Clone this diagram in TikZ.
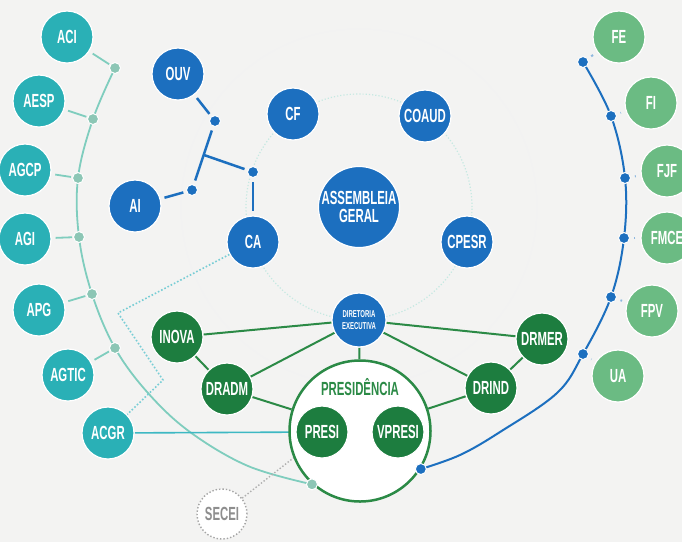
\documentclass[tikz,border=0pt]{standalone}
\usepackage{fontspec}
\setmainfont{Liberation Sans}[FakeStretch=0.6]
\usetikzlibrary{positioning}
\definecolor{paper}{HTML}{F3F3F2}
\definecolor{tealc}{HTML}{2AB0B6}
\definecolor{arcteal}{HTML}{7FCDBE}
\definecolor{dotteal}{HTML}{8CC6B5}
\definecolor{acgrline}{HTML}{3DB8C3}
\definecolor{bluec}{HTML}{1C6FBF}
\definecolor{greenc}{HTML}{1D7D3F}
\definecolor{linegreen}{HTML}{2B8A46}
\definecolor{lgreenc}{HTML}{6BBB83}
\definecolor{secgray}{HTML}{8E8E8E}
\pgfdeclarelayer{back}
\pgfsetlayers{back,main}

\begin{document}
\begin{tikzpicture}[x=1pt, y=-1pt,
  orgnode/.style={circle, minimum size=52pt, inner sep=0pt, draw=white, line width=1.2pt, text=white, font=\bfseries\fontsize{19}{19}\selectfont},
  assoc/.style={orgnode, fill=tealc},
  board/.style={orgnode, fill=bluec},
  direc/.style={orgnode, fill=greenc},
  fund/.style={orgnode, fill=lgreenc},
  tdot/.style={circle, inner sep=0pt, minimum size=11pt, fill=dotteal, draw=white, line width=1pt},
  bdot/.style={tdot, fill=bluec},
  tline/.style={draw=arcteal, line width=1.8pt},
  bline/.style={draw=bluec, line width=2.5pt},
  gline/.style={draw=linegreen, line width=2pt}]
\useasboundingbox (0,0) rectangle (682,542);
\begin{pgfonlayer}{back}
\fill[paper] (0,0) rectangle (682,542);
\end{pgfonlayer}

\node[assoc] (aci) at (67,37) {ACI};
\node[assoc] (aesp) at (39,101) {AESP};
\node[assoc] (agcp) at (25,170) {AGCP};
\node[assoc] (agi) at (25,239) {AGI};
\node[assoc] (apg) at (39,310) {APG};
\node[assoc] (agtic) at (68,375) {AGTIC};
\node[assoc] (acgr) at (108,433) {ACGR};

\node[tdot] (t1) at (115,68) {};
\node[tdot] (t2) at (93,119) {};
\node[tdot] (t3) at (78,178) {};
\node[tdot] (t4) at (79,237) {};
\node[tdot] (t5) at (92,294) {};
\node[tdot] (t6) at (115,348) {};

\node[board] (ouv) at (178,74) {OUV};
\node[board] (cf) at (293,114) {CF};
\node[board] (coaud) at (425,116) {COAUD};
\node[board, minimum size=81pt, align=center] (ag) at (359,207) {ASSEMBLEIA\\[-1pt]GERAL};
\node[board] (ai) at (135,206) {AI};
\node[board] (ca) at (253,242) {CA};
\node[board] (cpesr) at (467,242) {CPESR};
\node[board, minimum size=54pt, align=center, font=\bfseries\fontsize{10}{12}\selectfont] (dirx) at (359,320) {DIRETORIA\\EXECUTIVA};

\node[bdot] (b1) at (215,121) {};
\node[bdot] (b2) at (192,190) {};
\node[bdot] (b3) at (253,172) {};
\coordinate (bj) at (204,155);

\node[circle, draw=linegreen, line width=2.5pt, fill=white, minimum size=141pt] (pres) at (360,431) {};
\node[text=linegreen, font=\bfseries\fontsize{19}{19}\selectfont] (prestitle) at (360,387) {PRESIDÊNCIA};
\node[direc] (presi) at (322,432) {PRESI};
\node[direc] (vpresi) at (398,432) {VPRESI};
\node[direc] (inova) at (177,337) {INOVA};
\node[direc] (dradm) at (227,389) {DRADM};
\node[direc] (drmer) at (542,339) {DRMER};
\node[direc] (drind) at (491,388) {DRIND};

\node[fund] (fe) at (619,37) {FE};
\node[fund] (fi) at (651,103) {FI};
\node[fund] (fjf) at (667,171) {FJF};
\node[fund] (fmce) at (667,238) {FMCE};
\node[fund] (fpv) at (652,311) {FPV};
\node[fund] (ua) at (618,376) {UA};

\node[bdot] (r1) at (583,62) {};
\node[bdot] (r2) at (611,116) {};
\node[bdot] (r3) at (625,178) {};
\node[bdot] (r4) at (624,238) {};
\node[bdot] (r5) at (611,297) {};
\node[bdot] (r6) at (583,354) {};

\node[tdot] (t7) at (pres.228) {};
\node[bdot] (r7) at (pres.-32) {};

\node[circle, draw=secgray!80, dotted, line width=1.4pt, fill=white, minimum size=50pt, text=secgray, font=\bfseries\fontsize{19}{19}\selectfont] (secei) at (222,514) {SECEI};

\coordinate (k1) at (118,313);
\coordinate (k2) at (163,380);

\begin{pgfonlayer}{back}
\draw[black!5, line width=0.8pt] (ag.center) circle (178pt);
\draw[arcteal!45, dotted, line width=1.2pt] (ag.center) circle (113pt);
\draw[tline] plot[smooth, tension=0.6] coordinates {(t1) (t2) (t3) (t4) (t5) (t6) (148,393) (190,432) (248,466) (t7)};
\draw[bline, line width=2pt] plot[smooth, tension=0.6] coordinates {(r1) (r2) (r3) (r4) (r5) (r6) (557,393) (500,432) (460,455) (r7)};
\foreach \a/\d in {aci/t1, aesp/t2, agcp/t3, agi/t4, apg/t5, agtic/t6}
  \draw[tline, shorten <=4pt, shorten >=1pt] (\a) -- (\d);
\foreach \f/\d in {fe/r1, fi/r2, fjf/r3, fmce/r4, fpv/r5, ua/r6}
  \draw[bline, draw=bluec!50, line width=2pt, shorten <=5pt, shorten >=4pt] (\f) -- (\d);
\draw[acgrline, line width=1.6pt] (acgr) -- (presi);
\draw[acgrline!70, dotted, line width=1.6pt] (ca) -- (k1) -- (k2) -- (acgr);
\draw[secgray!70, dotted, line width=1.4pt] (secei) -- (pres.202);
\draw[bline, shorten <=4pt, shorten >=3pt] (ouv) -- (b1);
\draw[bline, shorten <=4pt, shorten >=4pt] (b1) -- (b2);
\draw[bline, shorten >=3pt] (bj) -- (b3);
\draw[bline, shorten <=4pt, shorten >=4pt] (b3) -- (ca);
\draw[bline, shorten <=4pt, shorten >=3pt] (ai) -- (b2);
\draw[gline] (dirx) -- (inova);
\draw[gline] (dirx) -- (dradm);
\draw[gline] (dirx) -- (pres);
\draw[gline] (dirx) -- (drmer);
\draw[gline] (dirx) -- (drind);
\draw[gline] (inova) -- (dradm);
\draw[gline] (drmer) -- (drind);
\draw[gline] (dradm) -- (pres);
\draw[gline] (drind) -- (pres);
\end{pgfonlayer}
\end{tikzpicture}
\end{document}
